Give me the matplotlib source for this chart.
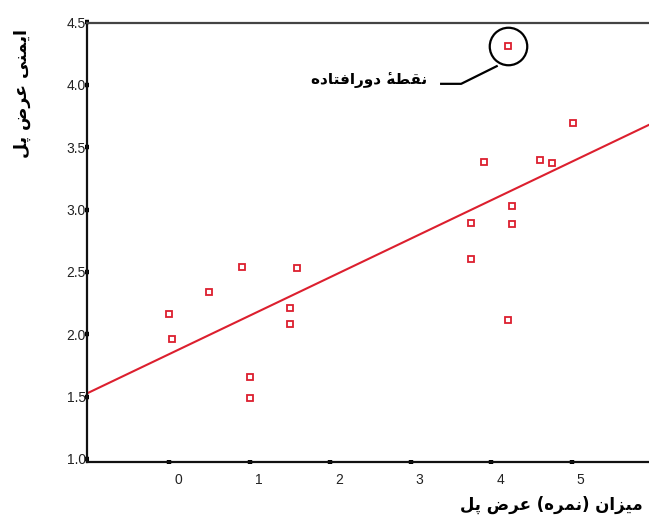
import numpy as np
import matplotlib
matplotlib.use("Agg")
import matplotlib.pyplot as plt
from matplotlib.transforms import Affine2D, ScaledTranslation

# scores
score = [0.00, 0.04, 0.90, 1.59, 0.50, 1.50, 1.50, 1.00, 1.00,
         5.01, 3.91, 4.61, 4.76, 4.26, 3.75, 4.26, 3.75, 4.21, 4.21]
safety = [2.16, 1.96, 2.54, 2.53, 2.34, 2.21, 2.08, 1.655, 1.49,
          3.69, 3.38, 3.40, 3.37, 3.03, 2.89, 2.88, 2.60, 2.11, 4.31]
outlier = (4.21, 4.31)

x_ticks = [0, 1, 2, 3, 4, 5]
y_ticks = [1.0, 1.5, 2.0, 2.5, 3.0, 3.5, 4.0, 4.5]

x_label = "میزان (نمره) عرض پل"
y_label = "ایمنی عرض پل"
note = "نقطهٔ دورافتاده"

# minimal arabic shaping (matplotlib has no text shaping)
FORMS = {
    'ا': (0xFE8D, 0xFE8E, None, None),
    'پ': (0xFB56, 0xFB57, 0xFB58, 0xFB59),
    'ت': (0xFE95, 0xFE96, 0xFE97, 0xFE98),
    'د': (0xFEA9, 0xFEAA, None, None),
    'ر': (0xFEAD, 0xFEAE, None, None),
    'ز': (0xFEAF, 0xFEB0, None, None),
    'ض': (0xFEBD, 0xFEBE, 0xFEBF, 0xFEC0),
    'ط': (0xFEC1, 0xFEC2, 0xFEC3, 0xFEC4),
    'ع': (0xFEC9, 0xFECA, 0xFECB, 0xFECC),
    'ف': (0xFED1, 0xFED2, 0xFED3, 0xFED4),
    'ق': (0xFED5, 0xFED6, 0xFED7, 0xFED8),
    'ل': (0xFEDD, 0xFEDE, 0xFEDF, 0xFEE0),
    'م': (0xFEE1, 0xFEE2, 0xFEE3, 0xFEE4),
    'ن': (0xFEE5, 0xFEE6, 0xFEE7, 0xFEE8),
    'ه': (0xFEE9, 0xFEEA, 0xFEEB, 0xFEEC),
    'و': (0xFEED, 0xFEEE, None, None),
    'ی': (0xFBFC, 0xFBFD, 0xFBFE, 0xFBFF),
}
MARKS = {'\u0654'}


def shape(s):
    letters = list(s)
    clusters = []
    for i, c in enumerate(letters):
        if c in MARKS and clusters:
            # mark goes before its base in visual order
            clusters[-1] = c + clusters[-1]
            continue
        if c not in FORMS:
            clusters.append(c)
            continue
        j = i - 1
        while j >= 0 and letters[j] in MARKS:
            j -= 1
        prev = letters[j] if j >= 0 else ''
        k = i + 1
        while k < len(letters) and letters[k] in MARKS:
            k += 1
        nxt = letters[k] if k < len(letters) else ''
        jp = prev in FORMS and FORMS[prev][2] is not None
        jn = FORMS[c][2] is not None and nxt in FORMS
        iso, fin, ini, med = FORMS[c]
        if jp and jn:
            g = med
        elif jp:
            g = fin
        elif jn:
            g = ini
        else:
            g = iso
        clusters.append(chr(g))
    return ''.join(reversed(clusters)).translate(str.maketrans('()', ')('))


W, H = 649, 521
fig = plt.figure(figsize=(W / 100, H / 100), dpi=100)
ax = fig.add_axes([87 / W, 1 - 462 / H, 1 - 87 / W, (462 - 22.5) / H])

red = '#dc1f2e'
ax.plot(score, safety, 's', ms=4.6, mfc='white', mec=red, mew=1.3, zorder=3)

# least squares line
b, a = np.polyfit(score, safety, 1)
xl = np.array([-1.02, 5.96])
ax.plot(xl, a + b * xl, color=red, lw=1.5, zorder=2)

ax.set_xlim(-1.02, 5.96)
ax.set_ylim(0.975, 4.5)
ax.set_xticks(x_ticks)
ax.set_yticks(y_ticks)
ax.set_xticklabels([str(t) for t in x_ticks])
ax.set_yticklabels([f"{t:.1f}" for t in y_ticks])

for s in ['left', 'bottom']:
    ax.spines[s].set_linewidth(1.6)
    ax.spines[s].set_color('#111111')
ax.spines['top'].set_linewidth(1.6)
ax.spines['top'].set_color('#444444')
ax.spines['right'].set_visible(False)

ax.tick_params(direction='inout', length=3.5, width=3.2, color='black',
               labelsize=10, labelcolor='#222222')
ax.tick_params(axis='y', pad=-1)
ax.tick_params(axis='x', pad=6)
for lab in ax.get_xticklabels():
    lab.set_fontfamily('Liberation Sans')
    lab.set_transform(lab.get_transform() + ScaledTranslation(9 / 100, 0, fig.dpi_scale_trans))
for lab in ax.get_yticklabels():
    lab.set_fontfamily('Liberation Sans')

# outlier circle + leader
ox, oy = outlier
ax.plot([ox], [oy], 'o', ms=27, mfc='none', mec='black', mew=1.6, clip_on=False, zorder=4)
pt = Affine2D().scale(fig.dpi / 72) + ScaledTranslation(ox, oy, ax.transData)
ax.plot([-8.2, -33.8, -48.2], [-14.4, -27.1, -27.1], color='black', lw=1.6,
        transform=pt, clip_on=False)
ax.text(-58.5, -24.0, shape(note), transform=pt, ha='right', va='center',
        fontsize=11, fontweight='bold', family='DejaVu Sans')

fig.text(643 / W, 1 - 505 / H, shape(x_label), ha='right', va='center',
         fontsize=12, fontweight='bold', family='DejaVu Sans')
fig.text(22 / W, 1 - 93 / H, shape(y_label), ha='center', va='center', rotation=90,
         fontsize=12.5, fontweight='bold', family='DejaVu Sans')

fig.savefig('out.png', dpi=100)
